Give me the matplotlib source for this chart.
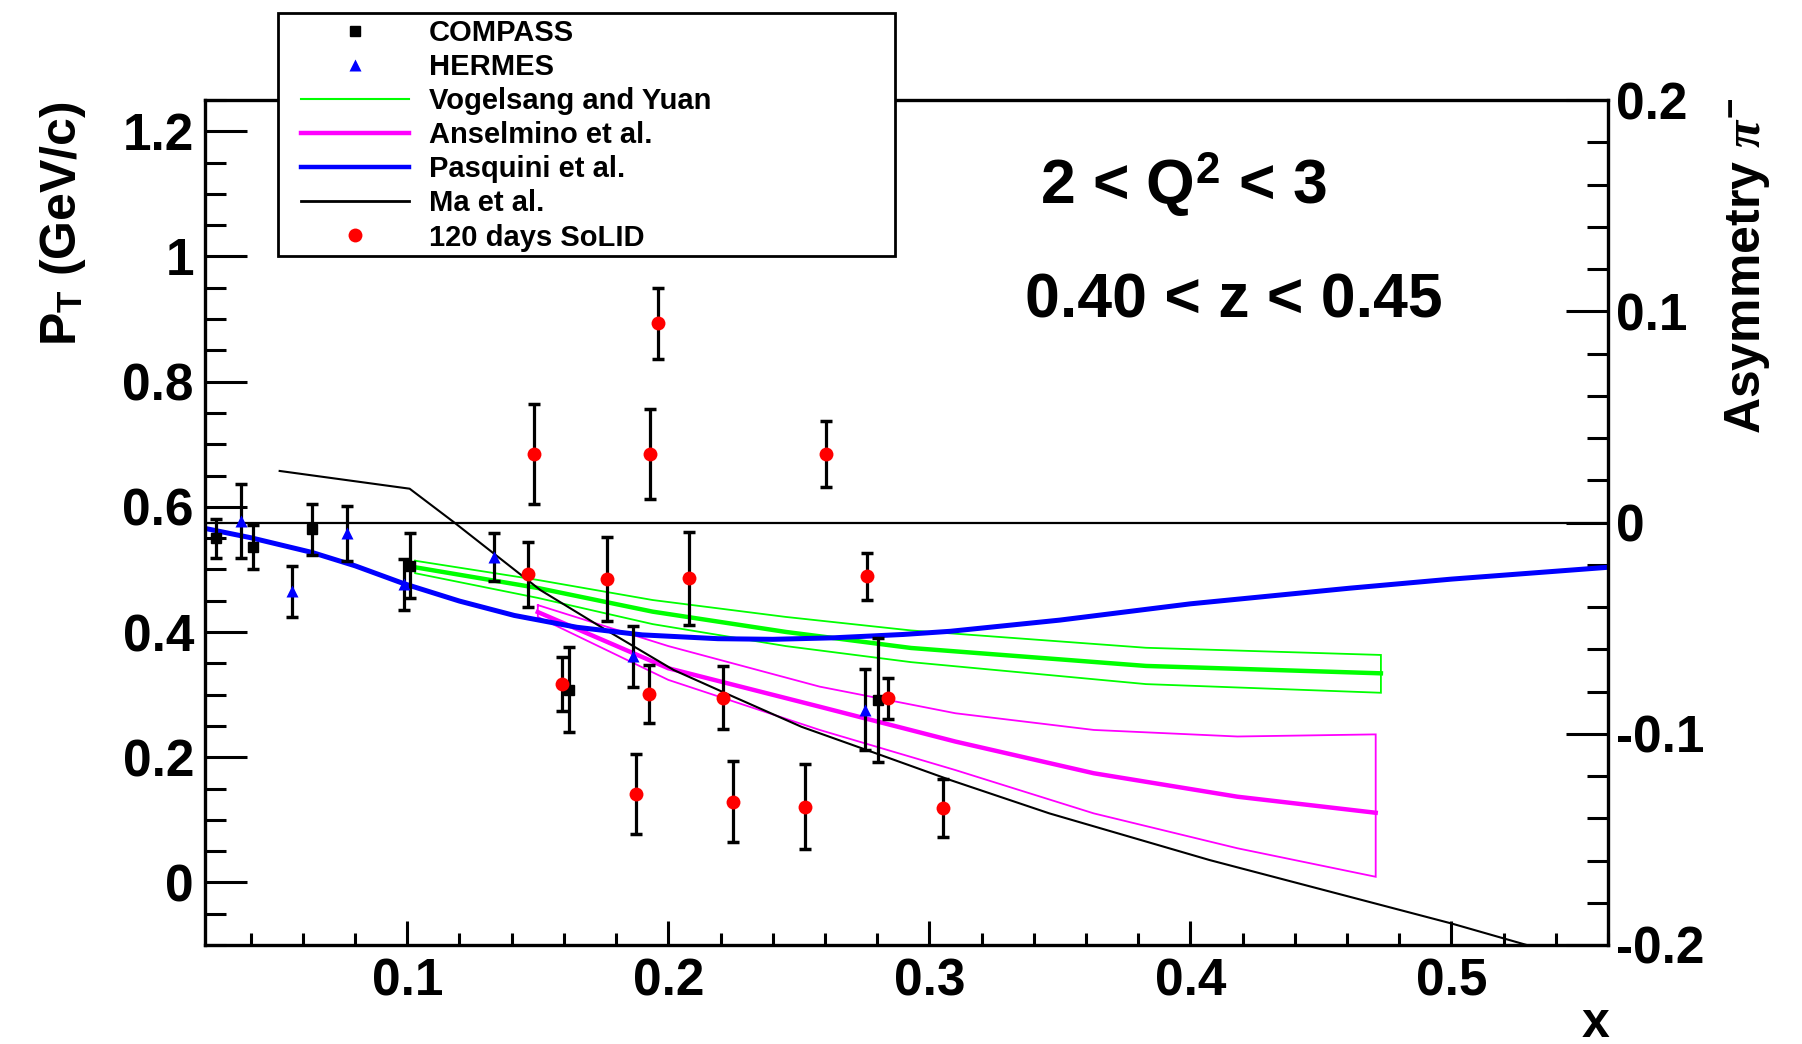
import numpy as np
import matplotlib
matplotlib.use("Agg")
import matplotlib.pyplot as plt
from matplotlib.ticker import MultipleLocator, FuncFormatter
from matplotlib.lines import Line2D
from matplotlib.patches import Rectangle

plt.rcParams['font.family'] = ['Liberation Sans', 'DejaVu Sans']
plt.rcParams['font.weight'] = 'bold'
plt.rcParams['mathtext.fontset'] = 'custom'
plt.rcParams['mathtext.rm'] = 'Liberation Sans:bold'
plt.rcParams['mathtext.bf'] = 'Liberation Sans:bold'
plt.rcParams['mathtext.it'] = 'Liberation Serif:italic'
plt.rcParams['axes.unicode_minus'] = False

# data points: x, P_T position, asymmetry error (drawn on the P_T scale)
compass_x = [0.0268, 0.0407, 0.0636, 0.1012, 0.1619, 0.2803]
compass_pt = [0.550, 0.536, 0.564, 0.506, 0.308, 0.292]
compass_err = [0.031, 0.035, 0.041, 0.052, 0.068, 0.099]

hermes_x = [0.0364, 0.0559, 0.0770, 0.0988, 0.1334, 0.1865, 0.2755]
hermes_pt = [0.577, 0.465, 0.558, 0.476, 0.520, 0.361, 0.276]
hermes_err = [0.059, 0.041, 0.044, 0.040, 0.038, 0.049, 0.065]

solid_x = [0.1487, 0.1930, 0.1959, 0.2605, 0.1464, 0.1765, 0.2081, 0.2761,
           0.1592, 0.1927, 0.2211, 0.2840, 0.1878, 0.2249, 0.2523, 0.3051]
solid_pt = [0.685, 0.685, 0.893, 0.684, 0.492, 0.485, 0.486, 0.489,
            0.317, 0.301, 0.295, 0.294, 0.141, 0.129, 0.121, 0.119]
solid_err = [0.080, 0.072, 0.0565, 0.053, 0.052, 0.067, 0.074, 0.038,
             0.043, 0.047, 0.050, 0.033, 0.064, 0.065, 0.068, 0.046]

# theory curves (asymmetry, right axis)
vy_x = [0.103, 0.15, 0.194, 0.245, 0.293, 0.383, 0.473]
vy_c = [-0.0212, -0.0310, -0.0422, -0.0518, -0.0594, -0.0679, -0.0714]
vy_up = [-0.0181, -0.0272, -0.0367, -0.0447, -0.0511, -0.0593, -0.0627]
vy_lo = [-0.0240, -0.0357, -0.0481, -0.0585, -0.0661, -0.0765, -0.0806]

an_x = [0.15, 0.2, 0.258, 0.31, 0.363, 0.418, 0.471]
an_c = [-0.0424, -0.0690, -0.0872, -0.1037, -0.1187, -0.1298, -0.1374]
an_up = [-0.0391, -0.0585, -0.0777, -0.0903, -0.0982, -0.1013, -0.1003]
an_lo = [-0.0447, -0.0745, -0.0982, -0.1172, -0.1377, -0.1542, -0.1677]

pas_x = [0.0225, 0.04, 0.0636, 0.08, 0.0988, 0.12, 0.141, 0.165, 0.19, 0.219,
         0.24, 0.263, 0.29, 0.308, 0.35, 0.40, 0.461, 0.50, 0.56]
pas_a = [-0.0028, -0.0072, -0.0142, -0.0205, -0.0290, -0.0372, -0.0440, -0.0496,
         -0.0532, -0.0550, -0.0553, -0.0546, -0.0530, -0.0515, -0.0462, -0.0385,
         -0.0311, -0.0268, -0.0212]

ma_x = [0.0511, 0.1009, 0.118, 0.151, 0.174, 0.202, 0.225, 0.251,
        0.276, 0.308, 0.346, 0.4074, 0.50, 0.56]
ma_a = [0.0244, 0.0160, 0.0, -0.0320, -0.0493, -0.0698, -0.0825,
        -0.0967, -0.1077, -0.1219, -0.1377, -0.1598, -0.1898, -0.2110]

labels = ["COMPASS", "HERMES", "Vogelsang and Yuan", "Anselmino et al.",
          "Pasquini et al.", "Ma et al.", "120 days SoLID"]

fig = plt.figure(figsize=(18.02, 10.44), dpi=100)
ax = fig.add_axes([205 / 1802, 1 - 945 / 1044, 1403 / 1802, 845 / 1044])
ax2 = ax.twinx()
ax.set_zorder(ax2.get_zorder() + 1)
ax.patch.set_visible(False)

ax.set_xlim(0.0225, 0.56)
ax.set_ylim(-0.1, 1.25)
ax2.set_ylim(-0.2, 0.2)


def band(a, x, up, lo, color):
    xs = list(x) + list(x[::-1]) + [x[0]]
    ys = list(up) + list(lo[::-1]) + [up[0]]
    a.plot(xs, ys, color=color, lw=1.3, solid_joinstyle='miter')


# curves
ax2.axhline(0, color='black', lw=1.6)
band(ax2, vy_x, vy_up, vy_lo, '#00ff00')
ax2.plot(vy_x, vy_c, color='#00ff00', lw=3.2)
band(ax2, an_x, an_up, an_lo, '#ff00ff')
ax2.plot(an_x, an_c, color='#ff00ff', lw=3.2)
ax2.plot(ma_x, ma_a, color='black', lw=1.5)
ax2.plot(pas_x, pas_a, color='#0000ff', lw=3.6)

# points
eb = dict(fmt='none', ecolor='black', elinewidth=2.3, capsize=4, capthick=2.5, zorder=3)
ax.errorbar(compass_x, compass_pt, yerr=compass_err, **eb)
ax.errorbar(hermes_x, hermes_pt, yerr=hermes_err, **eb)
ax.errorbar(solid_x, solid_pt, yerr=solid_err, **eb)
h_c, = ax.plot(compass_x, compass_pt, 's', color='black', ms=7, zorder=4)
h_h, = ax.plot(hermes_x, hermes_pt, '^', color='#0000ff', ms=8, mec='none', zorder=4)
h_s, = ax.plot(solid_x, solid_pt, 'o', color='#ff0000', ms=10, mec='none', zorder=4)

# axes style
fmt = FuncFormatter(lambda v, p: '%g' % round(v, 6))
ax.xaxis.set_major_locator(MultipleLocator(0.1))
ax.xaxis.set_minor_locator(MultipleLocator(0.02))
ax.yaxis.set_major_locator(MultipleLocator(0.2))
ax.yaxis.set_minor_locator(MultipleLocator(0.05))
ax2.yaxis.set_major_locator(MultipleLocator(0.1))
ax2.yaxis.set_minor_locator(MultipleLocator(0.02))
ax.xaxis.set_major_formatter(fmt)
ax.yaxis.set_major_formatter(fmt)
ax2.yaxis.set_major_formatter(fmt)
ax.xaxis.set_ticks_position('bottom')

ax.tick_params(axis='y', which='major', direction='in', length=30, width=2.2,
               labelsize=37, pad=8)
ax.tick_params(axis='y', which='minor', direction='in', length=15, width=2.2)
ax.tick_params(axis='x', which='major', direction='in', length=17, width=2.2,
               labelsize=37, pad=9)
ax.tick_params(axis='x', which='minor', direction='in', length=9, width=2.2)
ax2.tick_params(axis='y', which='major', direction='in', length=30, width=2.2,
                labelsize=37, pad=6)
ax2.tick_params(axis='y', which='minor', direction='in', length=15, width=2.2)
for s in ax.spines.values():
    s.set_linewidth(2.4)
for s in ax2.spines.values():
    s.set_visible(False)

# labels
fig.text(63 / 1802, 1 - 101 / 1044, r"P$_{\mathrm{T}}$ (GeV/c)", rotation=90,
         ha='center', va='top', fontsize=36, fontweight='bold')
fig.text(1748 / 1802, 1 - 98 / 1044, r"Asymmetry $\pi^{-}$", rotation=90,
         ha='center', va='top', fontsize=36, fontweight='bold')
fig.text(1609 / 1802, 1 - 1037 / 1044, "x", ha='right', va='baseline',
         fontsize=36, fontweight='bold')
fig.text(1183 / 1802, 1 - 204 / 1044, r"2 < Q$^{2}$ < 3", ha='center',
         va='baseline', fontsize=45, fontweight='bold')
fig.text(1234 / 1802, 1 - 317 / 1044, "0.40 < z < 0.45", ha='center',
         va='baseline', fontsize=45, fontweight='bold')

# legend: frame drawn as a box so the entries can sit further in
frame = Rectangle((278 / 1802, 1 - 256 / 1044), 617 / 1802, 243 / 1044,
                  transform=fig.transFigure, facecolor='white',
                  edgecolor='black', lw=2.0, clip_on=False, zorder=4.5)
ax.add_artist(frame)
handles = [h_c, h_h,
           Line2D([], [], color='#00ff00', lw=1.5),
           Line2D([], [], color='#ff00ff', lw=3.2),
           Line2D([], [], color='#0000ff', lw=3.2),
           Line2D([], [], color='black', lw=2.0),
           h_s]
leg = ax.legend(handles, labels, loc='upper left',
                bbox_to_anchor=(295 / 1802, 1 - 13 / 1044),
                bbox_transform=fig.transFigure, borderaxespad=0,
                fontsize=21, handlelength=3.7, handletextpad=0.7,
                labelspacing=0.21, borderpad=0.2, frameon=False)
leg.set_zorder(5)

fig.savefig("out.png", dpi=100)
